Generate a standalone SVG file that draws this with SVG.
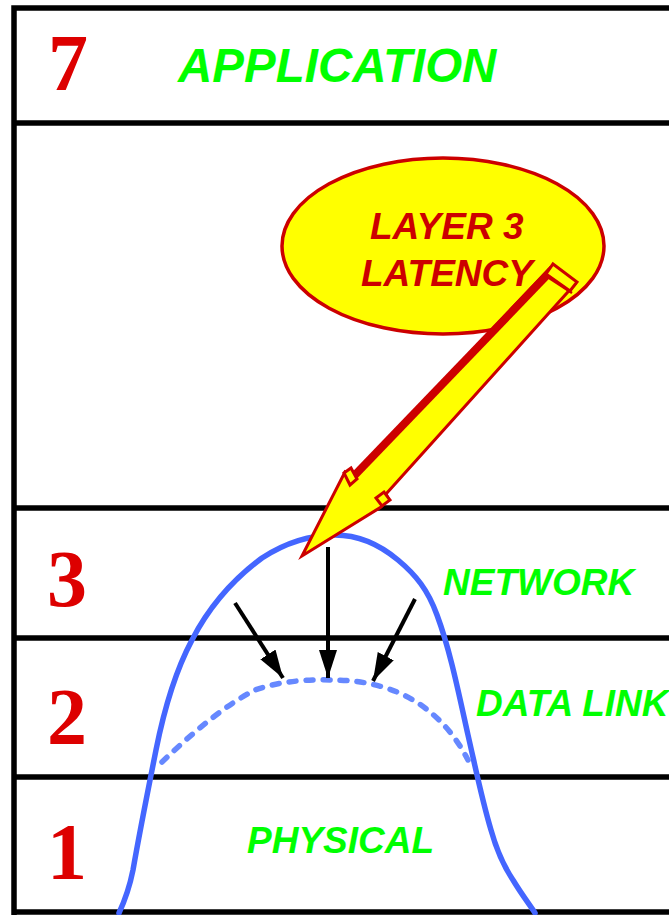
<svg xmlns="http://www.w3.org/2000/svg" width="669" height="915" viewBox="0 0 669 915">
<style>
.frame{stroke:#000;stroke-width:5.5;fill:none}
.num{font-family:"Liberation Serif",serif;font-weight:bold;font-size:80px;fill:#DD0000}
.lbl{font-family:"Liberation Sans",Arial,sans-serif;font-weight:bold;font-style:italic;fill:#00FF00}
.lat{font-family:"Liberation Sans",Arial,sans-serif;font-weight:bold;font-style:italic;font-size:37px;fill:#CC0000}
.curve{fill:none;stroke:#4466FF;stroke-width:5.5;stroke-linecap:round}
.dotted{fill:none;stroke:#6688FF;stroke-width:5.5;stroke-linecap:round;stroke-dasharray:7 10}
.blk{stroke:#000;stroke-width:4;fill:none}
.red{stroke:#CC0000;stroke-width:3;stroke-linejoin:miter}
</style>
<defs>
<marker id="ah" markerUnits="userSpaceOnUse" markerWidth="30" markerHeight="20" refX="28" refY="9" orient="auto">
<path d="M0,0 L28,9 L0,18 Z" fill="#000"/>
</marker>
</defs>
<g id="frame">
<path class="frame" d="M14,915 L14,8 L669,8"/>
<line class="frame" x1="14" y1="123" x2="669" y2="123"/>
<line class="frame" x1="14" y1="508" x2="669" y2="508"/>
<line class="frame" x1="14" y1="638" x2="669" y2="638"/>
<line class="frame" x1="14" y1="777" x2="669" y2="777"/>
<line class="frame" x1="14" y1="912" x2="669" y2="912"/>
</g>
<g id="layer7">
<text class="num" x="48" y="90">7</text>
<text class="lbl" x="178" y="82" font-size="47.5">APPLICATION</text>
</g>
<g id="layer3">
<text class="num" x="47" y="606">3</text>
<text class="lbl" x="443" y="595" font-size="37">NETWORK</text>
</g>
<g id="layer2">
<text class="num" x="47" y="744">2</text>
<text class="lbl" x="476" y="716" font-size="37">DATA LINK</text>
</g>
<g id="layer1">
<text class="num" x="47" y="879">1</text>
<text class="lbl" x="247" y="853" font-size="37">PHYSICAL</text>
</g>
<g id="curves">
<path class="curve" d="M119,913 C126,898 130,885 133,870 C140,830 148,790 156,750 C164,710 176,670 192,640 C210,605 235,578 262,558 C285,543 310,535 335,535 C360,535 380,545 398,560 C416,575 428,590 437,615 C450,650 458,690 468,735 C476,770 482,800 491,830 C498,855 505,868 513,880 C522,895 530,905 535,913"/>
<path class="dotted" d="M162,762 C190,735 225,705 255,690 C280,681 310,679 333,680 C365,680 395,688 418,703 C440,718 455,735 468,760"/>
</g>
<g id="connectors">
<line class="blk" x1="235" y1="603" x2="283" y2="678" marker-end="url(#ah)"/>
<line class="blk" x1="328" y1="547" x2="328" y2="678" marker-end="url(#ah)"/>
<line class="blk" x1="415" y1="599" x2="373" y2="681" marker-end="url(#ah)"/>
</g>
<g id="callout">
<ellipse cx="443" cy="246" rx="161" ry="88" fill="#FFFF00" stroke="#CC0000" stroke-width="3.5"/>
<text class="lat" x="370" y="239">LAYER 3</text>
<text class="lat" x="361" y="286">LATENCY</text>
</g>
<g id="bigarrow">
<polygon class="red" fill="#FFFF00" points="550,268 575,284 386,494 388,498 381,507 302,556 345,472 353,477"/>
<line x1="353" y1="477" x2="551" y2="271" stroke="#CC0000" stroke-width="8"/>
<polygon class="red" fill="#FFFF00" points="553,264 577,282 570,291 546,274"/>
<line x1="549" y1="278" x2="572" y2="293" stroke="#CC0000" stroke-width="2.5"/>
<polygon class="red" fill="#FFFF00" points="344,473 351,468 357,479 350,485"/>
<polygon class="red" fill="#FFFF00" points="376,498 384,492 390,500 382,506"/>
</g>
</svg>
